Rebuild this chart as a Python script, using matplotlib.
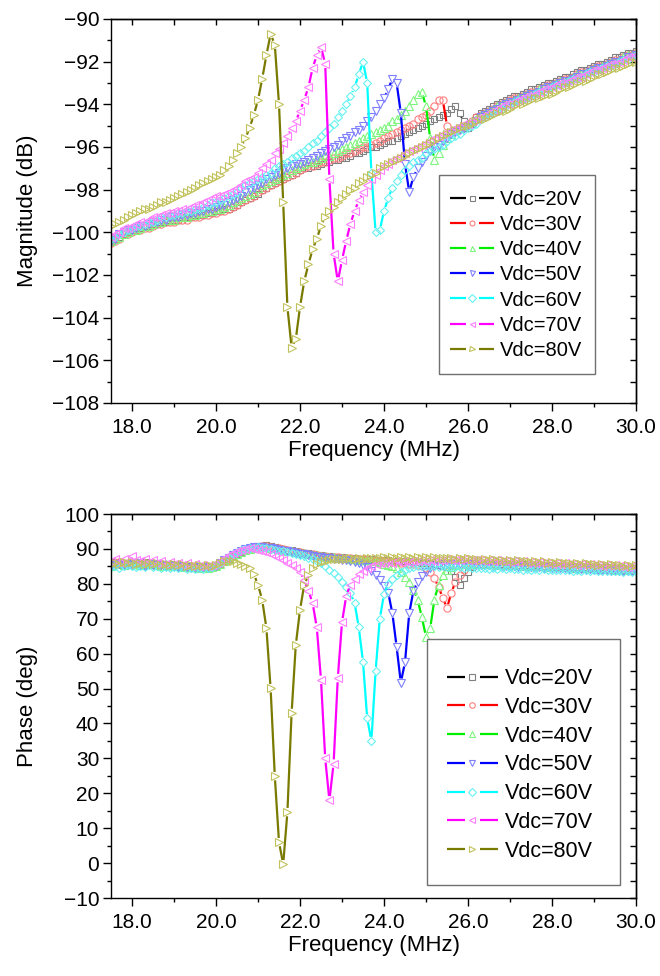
import numpy as np
import matplotlib
matplotlib.use("Agg")
import matplotlib.pyplot as plt
from matplotlib.lines import Line2D
from matplotlib.collections import LineCollection
from matplotlib.patches import Rectangle
from matplotlib.legend_handler import HandlerBase
from matplotlib.ticker import MultipleLocator, FormatStrFormatter, NullFormatter

plt.rcParams['font.family'] = ['Liberation Sans', 'DejaVu Sans']

# ---------------- data ----------------
freq_start, freq_stop, freq_step = 17.5, 30.0, 0.1
freq = np.round(np.arange(freq_start, freq_stop + freq_step / 2, freq_step), 2)

labels = ["Vdc=20V", "Vdc=30V", "Vdc=40V", "Vdc=50V", "Vdc=60V", "Vdc=70V", "Vdc=80V"]

mag_20V = [-100.4, -100.3, -100.2, -100.1, -100.0,
           -99.9, -99.9, -99.8, -99.7, -99.7, -99.6, -99.6, -99.5, -99.5, -99.4,
           -99.4, -99.4, -99.3, -99.3, -99.3, -99.2, -99.2, -99.2, -99.1, -99.1,
           -99.0, -99.0, -98.9, -98.9, -98.8, -98.7, -98.6, -98.5, -98.4, -98.3,
           -98.2, -98.0, -97.9, -97.8, -97.7, -97.6, -97.5, -97.4, -97.3, -97.2,
           -97.1, -97.0, -97.0, -96.9, -96.9, -96.8, -96.7, -96.7, -96.6, -96.6,
           -96.5, -96.5, -96.4, -96.3, -96.3, -96.2, -96.1, -96.0, -96.0, -95.9,
           -95.8, -95.7, -95.7, -95.6, -95.5, -95.4, -95.3, -95.2, -95.1, -95.0,
           -94.9, -94.8, -94.7, -94.6, -94.5, -94.4, -94.2, -94.1, -94.4, -94.8,
           -95.1, -94.9, -94.6, -94.4, -94.3, -94.2, -94.1, -94.0, -93.9, -93.8,
           -93.7, -93.6, -93.6, -93.5, -93.4, -93.3, -93.3, -93.2, -93.1, -93.0,
           -93.0, -92.9, -92.8, -92.7, -92.7, -92.6, -92.5, -92.4, -92.4, -92.3,
           -92.2, -92.1, -92.1, -92.0, -91.9, -91.8, -91.8, -91.7, -91.6, -91.6,
           -91.5]
mag_30V = [-100.5, -100.4, -100.3, -100.1, -100.1,
           -100.0, -99.9, -99.9, -99.8, -99.8, -99.7, -99.6, -99.6, -99.5, -99.5,
           -99.5, -99.4, -99.4, -99.4, -99.3, -99.3, -99.3, -99.2, -99.2, -99.1,
           -99.1, -99.0, -99.0, -98.9, -98.8, -98.7, -98.6, -98.5, -98.4, -98.3,
           -98.1, -98.0, -97.9, -97.8, -97.7, -97.6, -97.5, -97.4, -97.3, -97.2,
           -97.1, -97.0, -96.9, -96.9, -96.8, -96.7, -96.7, -96.6, -96.5, -96.5,
           -96.4, -96.3, -96.3, -96.2, -96.1, -96.0, -96.0, -95.9, -95.8, -95.7,
           -95.6, -95.5, -95.4, -95.3, -95.2, -95.1, -95.0, -94.9, -94.7, -94.6,
           -94.5, -94.3, -94.1, -93.8, -93.8, -95.0, -95.3, -95.2, -95.1, -95.0,
           -94.9, -94.8, -94.6, -94.5, -94.4, -94.3, -94.2, -94.1, -94.0, -93.9,
           -93.8, -93.7, -93.7, -93.6, -93.5, -93.4, -93.4, -93.3, -93.2, -93.1,
           -93.1, -93.0, -92.9, -92.8, -92.8, -92.7, -92.6, -92.5, -92.5, -92.4,
           -92.3, -92.2, -92.2, -92.1, -92.0, -91.9, -91.9, -91.8, -91.7, -91.7,
           -91.6]
mag_40V = [-100.4, -100.3, -100.2, -100.1, -100.0,
           -99.9, -99.9, -99.8, -99.7, -99.7, -99.6, -99.5, -99.5, -99.4, -99.4,
           -99.4, -99.3, -99.3, -99.3, -99.2, -99.2, -99.1, -99.1, -99.0, -99.0,
           -98.9, -98.9, -98.8, -98.7, -98.6, -98.5, -98.4, -98.3, -98.2, -98.1,
           -97.9, -97.8, -97.7, -97.6, -97.5, -97.4, -97.3, -97.2, -97.1, -97.0,
           -96.9, -96.8, -96.7, -96.7, -96.6, -96.5, -96.4, -96.4, -96.3, -96.2,
           -96.1, -96.0, -95.9, -95.8, -95.7, -95.6, -95.5, -95.4, -95.3, -95.2,
           -95.1, -95.0, -94.8, -94.7, -94.5, -94.3, -94.1, -93.8, -93.5, -93.4,
           -94.1, -95.6, -96.6, -96.3, -95.9, -95.6, -95.4, -95.2, -95.1, -95.0,
           -94.9, -94.8, -94.7, -94.5, -94.4, -94.3, -94.2, -94.1, -94.0, -93.9,
           -93.9, -93.8, -93.7, -93.6, -93.5, -93.5, -93.4, -93.3, -93.2, -93.2,
           -93.1, -93.0, -92.9, -92.9, -92.8, -92.7, -92.6, -92.6, -92.5, -92.4,
           -92.3, -92.3, -92.2, -92.1, -92.0, -92.0, -91.9, -91.8, -91.7, -91.7,
           -91.6]
mag_50V = [-100.4, -100.3, -100.1, -100.0, -99.9,
           -99.9, -99.8, -99.7, -99.7, -99.6, -99.5, -99.5, -99.4, -99.4, -99.3,
           -99.3, -99.3, -99.2, -99.2, -99.1, -99.1, -99.0, -99.0, -98.9, -98.9,
           -98.8, -98.7, -98.7, -98.6, -98.5, -98.4, -98.3, -98.1, -98.0, -97.9,
           -97.8, -97.7, -97.5, -97.4, -97.3, -97.2, -97.1, -97.0, -96.9, -96.8,
           -96.8, -96.7, -96.6, -96.5, -96.4, -96.3, -96.2, -96.1, -96.0, -95.9,
           -95.7, -95.6, -95.5, -95.3, -95.2, -95.0, -94.8, -94.6, -94.3, -94.0,
           -93.7, -93.3, -92.8, -93.0, -94.4, -96.8, -98.1, -97.4, -97.0, -96.7,
           -96.4, -96.2, -96.0, -95.9, -95.7, -95.6, -95.4, -95.3, -95.2, -95.1,
           -95.0, -94.9, -94.8, -94.6, -94.5, -94.4, -94.3, -94.2, -94.1, -94.0,
           -93.9, -93.9, -93.8, -93.7, -93.6, -93.5, -93.5, -93.4, -93.3, -93.2,
           -93.2, -93.1, -93.0, -92.9, -92.9, -92.8, -92.7, -92.6, -92.6, -92.5,
           -92.4, -92.3, -92.3, -92.2, -92.1, -92.0, -92.0, -91.9, -91.8, -91.8,
           -91.7]
mag_60V = [-100.3, -100.2, -100.1, -100.0, -99.9,
           -99.8, -99.7, -99.7, -99.6, -99.5, -99.5, -99.4, -99.3, -99.3, -99.2,
           -99.2, -99.1, -99.1, -99.0, -99.0, -98.9, -98.9, -98.8, -98.7, -98.6,
           -98.6, -98.5, -98.4, -98.3, -98.2, -98.1, -97.9, -97.8, -97.7, -97.6,
           -97.5, -97.4, -97.3, -97.2, -97.0, -96.9, -96.8, -96.7, -96.5, -96.4,
           -96.3, -96.2, -96.0, -95.8, -95.7, -95.5, -95.3, -95.1, -94.9, -94.6,
           -94.3, -94.0, -93.6, -93.2, -92.6, -92.0, -93.0, -97.2, -100.0, -99.9,
           -99.0, -98.4, -97.9, -97.6, -97.3, -97.1, -96.9, -96.7, -96.6, -96.5,
           -96.3, -96.2, -96.1, -96.0, -95.9, -95.7, -95.6, -95.5, -95.4, -95.2,
           -95.1, -95.0, -94.9, -94.7, -94.6, -94.5, -94.4, -94.3, -94.2, -94.1,
           -94.0, -93.9, -93.8, -93.8, -93.7, -93.6, -93.5, -93.4, -93.4, -93.3,
           -93.2, -93.1, -93.1, -93.0, -92.9, -92.8, -92.8, -92.7, -92.6, -92.5,
           -92.5, -92.4, -92.3, -92.2, -92.2, -92.1, -92.0, -91.9, -91.9, -91.8,
           -91.7]
mag_70V = [-100.2, -100.1, -100.0, -99.8, -99.8,
           -99.7, -99.6, -99.5, -99.5, -99.4, -99.3, -99.3, -99.2, -99.1, -99.1,
           -99.0, -99.0, -98.9, -98.9, -98.8, -98.7, -98.7, -98.6, -98.5, -98.4,
           -98.3, -98.3, -98.2, -98.1, -98.0, -97.9, -97.8, -97.6, -97.5, -97.4,
           -97.2, -97.0, -96.8, -96.6, -96.3, -96.1, -95.8, -95.5, -95.1, -94.8,
           -94.3, -93.8, -93.2, -92.3, -91.7, -91.3, -92.1, -97.5, -101.0, -102.3,
           -101.3, -100.4, -99.6, -99.0, -98.5, -98.1, -97.8, -97.5, -97.3, -97.1,
           -96.9, -96.8, -96.6, -96.5, -96.4, -96.3, -96.2, -96.1, -96.0, -95.9,
           -95.8, -95.7, -95.6, -95.5, -95.4, -95.3, -95.2, -95.1, -95.0, -94.9,
           -94.9, -94.8, -94.7, -94.6, -94.5, -94.4, -94.3, -94.2, -94.1, -94.0,
           -94.0, -93.9, -93.8, -93.7, -93.6, -93.6, -93.5, -93.4, -93.3, -93.3,
           -93.2, -93.1, -93.0, -93.0, -92.9, -92.8, -92.7, -92.7, -92.6, -92.5,
           -92.4, -92.4, -92.3, -92.2, -92.1, -92.1, -92.0, -91.9, -91.8, -91.8,
           -91.7]
mag_80V = [-99.7, -99.6, -99.5, -99.4, -99.3,
           -99.2, -99.1, -99.0, -98.9, -98.9, -98.8, -98.7, -98.6, -98.6, -98.5,
           -98.4, -98.3, -98.2, -98.1, -98.0, -97.9, -97.8, -97.7, -97.6, -97.5,
           -97.4, -97.3, -97.1, -96.9, -96.6, -96.3, -96.0, -95.6, -95.1, -94.5,
           -93.8, -92.8, -91.7, -90.7, -91.2, -94.0, -98.6, -103.5, -105.4, -105.0,
           -103.5, -102.3, -101.5, -100.8, -100.3, -99.7, -99.3, -99.0, -98.8, -98.6,
           -98.4, -98.2, -98.0, -97.9, -97.7, -97.6, -97.4, -97.3, -97.2, -97.0,
           -96.9, -96.8, -96.7, -96.6, -96.5, -96.4, -96.3, -96.2, -96.1, -96.0,
           -95.9, -95.8, -95.7, -95.6, -95.5, -95.4, -95.3, -95.2, -95.1, -95.0,
           -95.0, -94.9, -94.8, -94.7, -94.7, -94.6, -94.5, -94.4, -94.3, -94.3,
           -94.2, -94.1, -94.0, -94.0, -93.9, -93.8, -93.7, -93.7, -93.6, -93.5,
           -93.5, -93.4, -93.3, -93.2, -93.2, -93.1, -93.0, -92.9, -92.9, -92.8,
           -92.7, -92.6, -92.6, -92.5, -92.4, -92.3, -92.3, -92.2, -92.1, -92.0,
           -92.0]

ph_20V = [85.8, 86.2, 85.5, 86.0, 85.7,
          86.1, 85.6, 85.9, 86.3, 85.8, 85.5, 85.9, 85.6, 85.2, 85.5,
          85.1, 85.4, 84.9, 85.2, 84.8, 84.6, 84.9, 84.5, 84.8, 84.6,
          85.0, 85.6, 86.3, 87.1, 87.9, 88.6, 89.2, 89.8, 90.2, 90.5,
          90.8, 90.9, 91.0, 90.8, 90.6, 90.3, 90.1, 89.8, 89.6, 89.3,
          89.1, 88.9, 88.7, 88.5, 88.3, 88.2, 88.0, 87.9, 87.8, 87.7,
          87.6, 87.5, 87.4, 87.3, 87.2, 87.1, 87.0, 87.0, 86.9, 86.8,
          86.8, 86.7, 86.6, 86.6, 86.5, 86.4, 86.4, 86.3, 86.2, 86.1,
          86.0, 85.8, 85.6, 85.4, 85.1, 84.8, 83.8, 82.0, 79.7, 81.7,
          83.4, 84.8, 85.4, 85.6, 85.7, 85.8, 85.8, 85.7, 85.7, 85.6,
          85.6, 85.5, 85.5, 85.6, 85.4, 85.4, 85.3, 85.4, 85.2, 85.2,
          85.3, 85.1, 85.1, 85.2, 85.0, 85.0, 84.9, 85.0, 84.8, 84.8,
          84.9, 84.7, 84.7, 84.8, 84.6, 84.6, 84.5, 84.6, 84.4, 84.4,
          84.5]
ph_30V = [85.5, 85.9, 86.3, 85.8, 85.4,
          85.9, 86.2, 85.7, 85.5, 86.0, 85.7, 85.3, 85.8, 85.4, 85.1,
          85.3, 85.0, 85.2, 84.7, 85.0, 84.5, 84.8, 84.7, 84.4, 84.9,
          85.2, 85.8, 86.5, 87.3, 88.0, 88.7, 89.3, 89.7, 90.1, 90.4,
          90.6, 90.7, 90.8, 90.6, 90.4, 90.2, 89.9, 89.7, 89.4, 89.2,
          89.0, 88.8, 88.6, 88.4, 88.3, 88.1, 88.0, 87.8, 87.7, 87.6,
          87.5, 87.4, 87.3, 87.2, 87.1, 87.0, 86.9, 86.8, 86.7, 86.6,
          86.5, 86.4, 86.3, 86.2, 86.1, 86.0, 85.8, 85.6, 85.4, 85.1,
          84.6, 83.4, 81.6, 79.0, 76.0, 73.0, 77.4, 80.5, 82.5, 84.0,
          85.0, 85.5, 85.7, 85.8, 85.8, 85.7, 85.6, 85.7, 85.5, 85.5,
          85.4, 85.5, 85.3, 85.3, 85.2, 85.3, 85.1, 85.1, 85.0, 85.1,
          84.9, 84.9, 84.8, 84.9, 84.7, 84.7, 84.6, 84.7, 84.5, 84.5,
          84.4, 84.5, 84.3, 84.3, 84.2, 84.3, 84.1, 84.1, 84.0, 84.1,
          84.0]
ph_40V = [85.2, 85.6, 86.0, 85.5, 85.9,
          85.7, 86.0, 85.4, 85.8, 85.6, 85.9, 85.5, 85.2, 85.6, 85.3,
          85.0, 85.3, 84.8, 85.1, 84.7, 85.0, 84.6, 84.9, 84.5, 84.8,
          85.1, 85.7, 86.4, 87.2, 87.9, 88.6, 89.2, 89.7, 90.0, 90.3,
          90.5, 90.6, 90.5, 90.4, 90.2, 90.0, 89.8, 89.5, 89.3, 89.1,
          88.9, 88.7, 88.5, 88.3, 88.2, 88.0, 87.9, 87.7, 87.6, 87.5,
          87.4, 87.3, 87.2, 87.0, 86.9, 86.8, 86.7, 86.6, 86.4, 86.3,
          85.8, 85.5, 85.0, 84.4, 83.3, 82.0, 80.4, 78.3, 75.5, 70.5,
          64.8, 67.3, 75.5, 79.8, 82.5, 84.0, 84.9, 85.4, 85.7, 85.8,
          85.9, 85.8, 85.9, 85.7, 85.8, 85.6, 85.7, 85.5, 85.6, 85.4,
          85.5, 85.3, 85.4, 85.2, 85.3, 85.1, 85.2, 85.0, 85.1, 84.9,
          85.0, 84.8, 84.9, 84.7, 84.8, 84.6, 84.7, 84.5, 84.6, 84.4,
          84.5, 84.3, 84.4, 84.2, 84.3, 84.1, 84.2, 84.0, 84.1, 83.9,
          84.0]
ph_50V = [85.0, 85.4, 85.8, 85.3, 85.7,
          85.4, 85.9, 85.5, 85.2, 85.7, 85.4, 85.8, 85.3, 85.0, 85.4,
          85.1, 84.8, 85.2, 84.9, 84.6, 84.9, 84.5, 84.8, 84.4, 84.7,
          85.2, 85.9, 86.7, 87.5, 88.2, 88.9, 89.5, 90.0, 90.3, 90.5,
          90.6, 90.5, 90.4, 90.2, 90.0, 89.8, 89.5, 89.3, 89.0, 88.8,
          88.6, 88.4, 88.2, 88.0, 87.8, 87.7, 87.5, 87.3, 87.2, 87.0,
          86.9, 86.7, 86.5, 86.3, 86.0, 85.5, 84.8, 83.8, 82.5, 81.2,
          79.5, 77.5, 71.5, 62.0, 51.7, 57.5, 71.5, 78.0, 80.6, 82.3,
          83.5, 84.5, 85.1, 85.5, 85.7, 85.8, 85.7, 85.8, 85.6, 85.7,
          85.5, 85.6, 85.4, 85.5, 85.3, 85.4, 85.2, 85.3, 85.1, 85.2,
          85.0, 85.1, 84.9, 85.0, 84.8, 84.9, 84.7, 84.8, 84.6, 84.7,
          84.5, 84.6, 84.4, 84.5, 84.3, 84.4, 84.2, 84.3, 84.1, 84.2,
          84.0, 84.1, 83.9, 84.0, 83.8, 83.9, 83.7, 83.8, 83.6, 83.7,
          83.6]
ph_60V = [84.8, 85.2, 84.6, 85.0, 85.4,
          85.1, 84.7, 85.2, 84.9, 85.3, 84.8, 85.1, 84.6, 84.9, 84.5,
          84.8, 84.4, 84.7, 84.3, 84.6, 84.2, 84.5, 84.3, 84.6, 84.9,
          85.4, 86.1, 86.9, 87.7, 88.4, 89.0, 89.6, 90.0, 90.3, 90.4,
          90.5, 90.4, 90.2, 90.0, 89.8, 89.5, 89.3, 89.0, 88.8, 88.5,
          88.2, 87.9, 87.5, 87.1, 86.6, 85.9, 85.0, 84.0, 83.0, 82.0,
          80.6, 79.1, 77.3, 74.5, 67.5, 57.6, 41.5, 35.0, 55.0, 70.0,
          77.0, 80.0, 81.5, 82.6, 83.5, 84.1, 84.5, 84.8, 85.0, 85.1,
          85.2, 85.0, 85.1, 84.9, 85.0, 84.8, 84.9, 84.7, 84.8, 84.6,
          84.7, 84.5, 84.6, 84.4, 84.5, 84.3, 84.5, 84.3, 84.4, 84.2,
          84.4, 84.2, 84.3, 84.1, 84.3, 84.1, 84.2, 84.0, 84.2, 84.0,
          84.1, 83.9, 84.1, 83.9, 84.0, 83.8, 84.0, 83.8, 83.9, 83.7,
          83.9, 83.7, 83.8, 83.6, 83.8, 83.6, 83.7, 83.5, 83.7, 83.5,
          83.6]
ph_70V = [86.5, 87.2, 86.3, 87.0, 86.6,
          88.0, 86.9, 86.4, 87.1, 86.2, 86.8, 86.0, 86.5, 85.8, 86.3,
          85.6, 86.1, 85.4, 85.9, 85.2, 85.6, 85.0, 85.4, 85.1, 85.5,
          85.9, 86.6, 87.4, 88.2, 88.8, 89.4, 89.8, 90.1, 90.2, 90.1,
          89.8, 89.5, 89.0, 88.5, 88.0, 87.4, 86.8, 86.1, 85.3, 84.5,
          83.5, 81.0, 78.0, 74.5, 67.5, 52.5, 30.0, 18.0, 28.5, 53.0,
          69.0, 76.5, 79.8, 81.5, 82.8, 83.8, 84.6, 85.2, 85.6, 85.9,
          86.0, 86.3, 86.1, 86.4, 86.2, 86.5, 86.3, 86.6, 86.4, 86.7,
          86.5, 86.8, 86.6, 86.9, 86.7, 87.0, 86.8, 86.9, 86.7, 87.0,
          86.8, 86.9, 86.7, 86.9, 86.6, 86.8, 86.5, 86.7, 86.4, 86.6,
          86.3, 86.5, 86.2, 86.4, 86.1, 86.3, 86.0, 86.2, 85.9, 86.1,
          85.8, 86.0, 85.7, 85.9, 85.6, 85.8, 85.5, 85.7, 85.4, 85.6,
          85.3, 85.5, 85.2, 85.4, 85.1, 85.3, 85.0, 85.2, 84.9, 85.1,
          84.9]
ph_80V = [85.6, 86.0, 85.7, 86.2, 85.9,
          86.3, 85.8, 86.1, 85.7, 86.0, 85.6, 85.9, 85.5, 85.8, 85.4,
          85.7, 85.3, 85.6, 85.2, 85.5, 85.1, 85.4, 85.0, 85.3, 85.2,
          85.5, 86.0, 86.4, 86.6, 86.5, 86.0, 85.7, 85.2, 84.5, 82.8,
          79.7, 75.4, 67.3, 50.1, 24.9, 6.0, -0.3, 14.6, 43.0, 62.5,
          72.5, 79.7, 82.5, 84.5, 85.6, 86.2, 86.6, 86.8, 87.0, 87.1,
          87.2, 87.0, 87.3, 87.1, 87.4, 87.2, 87.5, 87.3, 87.5, 87.3,
          87.6, 87.4, 87.6, 87.4, 87.7, 87.5, 87.6, 87.4, 87.7, 87.5,
          87.6, 87.4, 87.6, 87.3, 87.5, 87.3, 87.4, 87.2, 87.4, 87.1,
          87.3, 87.0, 87.2, 86.9, 87.1, 86.8, 87.0, 86.7, 86.9, 86.6,
          86.8, 86.5, 86.7, 86.4, 86.6, 86.3, 86.5, 86.2, 86.4, 86.1,
          86.3, 86.0, 86.2, 85.9, 86.1, 85.8, 86.0, 85.7, 85.9, 85.6,
          85.8, 85.5, 85.7, 85.4, 85.6, 85.3, 85.5, 85.2, 85.4, 85.1,
          85.3]

magnitudes = [mag_20V, mag_30V, mag_40V, mag_50V, mag_60V, mag_70V, mag_80V]
phases = [ph_20V, ph_30V, ph_40V, ph_50V, ph_60V, ph_70V, ph_80V]
for arr in magnitudes + phases:
    assert len(arr) == len(freq), len(arr)

# ---------------- style ----------------
line_colors = ['#000000', '#FF0000', '#00EE00', '#0000FF', '#00FFFF', '#FF00FF', '#7A7A00']
marker_colors = ['#808080', '#FF7F7F', '#7FF57F', '#7F7FFF', '#66F2F2', '#FF7FFF', '#C2C25C']
markers = ['s', 'o', '^', 'v', 'D', '<', '>']
marker_sizes = [5.0, 5.2, 5.5, 5.5, 4.4, 5.5, 5.5]

fig = plt.figure(figsize=(6.6, 9.76), dpi=100)
W, H = 660.0, 976.0
ax1 = fig.add_axes([111 / W, 1 - 403 / H, 525 / W, 384 / H])
ax2 = fig.add_axes([111 / W, 1 - 898 / H, 525 / W, 384 / H])

GAP_PX = 4.2


def draw_series(ax, x, y, lc, mc, mk, ms):
    pts = ax.transData.transform(np.column_stack([x, y]))
    segs = []
    for p0, p1 in zip(pts[:-1], pts[1:]):
        d = p1 - p0
        L = np.hypot(d[0], d[1])
        if L > 2 * GAP_PX + 0.5:
            u = d / L
            segs.append([p0 + u * GAP_PX, p1 - u * GAP_PX])
    inv = ax.transData.inverted()
    segs_data = [inv.transform(np.array(s)) for s in segs]
    lcol = LineCollection(segs_data, colors=lc, linewidths=1.6, zorder=2,
                          capstyle='butt')
    ax.add_collection(lcol)
    ax.plot(x, y, linestyle='none', marker=mk, markersize=ms,
            markerfacecolor='none', markeredgecolor=mc, markeredgewidth=0.8,
            zorder=2)


class GapHandler(HandlerBase):
    def __init__(self, ms, lw, gap_frac):
        super().__init__()
        self.ms = ms
        self.lw = lw
        self.gap_frac = gap_frac

    def create_artists(self, legend, orig_handle, xdescent, ydescent,
                       width, height, fontsize, trans):
        y = (height - ydescent) / 2.0
        x0 = -xdescent
        x1 = -xdescent + width
        xm = 0.5 * (x0 + x1)
        g = width * self.gap_frac
        c = orig_handle.get_color()
        l1 = Line2D([x0, xm - g], [y, y], color=c, lw=self.lw, solid_capstyle='butt')
        l2 = Line2D([xm + g, x1], [y, y], color=c, lw=self.lw, solid_capstyle='butt')
        m = Line2D([xm], [y], linestyle='none', marker=orig_handle.get_marker(),
                   markersize=self.ms, markerfacecolor='none',
                   markeredgecolor=orig_handle.get_markeredgecolor(),
                   markeredgewidth=0.8)
        for a in (l1, l2, m):
            a.set_transform(trans)
        return [l1, l2, m]


def style_axes(ax, ymin, ymax, ymajor, yminor, ylabel):
    ax.set_xlim(17.5, 30.0)
    ax.set_ylim(ymin, ymax)
    ax.xaxis.set_major_locator(MultipleLocator(2))
    ax.xaxis.set_minor_locator(MultipleLocator(1))
    ax.xaxis.set_major_formatter(FormatStrFormatter('%.1f'))
    ax.yaxis.set_major_locator(MultipleLocator(ymajor))
    ax.yaxis.set_minor_locator(MultipleLocator(yminor))
    ax.tick_params(which='both', direction='out', top=False, right=False,
                   width=1.0, labelsize=15, pad=2.5)
    ax.tick_params(which='major', length=6)
    ax.tick_params(which='minor', length=3)
    ax.tick_params(axis='x', which='major', pad=5)
    for sp in ax.spines.values():
        sp.set_linewidth(1.0)
    ax.set_xlabel('Frequency (MHz)', fontsize=16, labelpad=2)
    ax.set_ylabel(ylabel, fontsize=16, labelpad=4)
    sx = ax.secondary_xaxis('top')
    sx.xaxis.set_major_locator(MultipleLocator(1))
    sx.xaxis.set_major_formatter(NullFormatter())
    sx.tick_params(direction='in', length=4.3, width=1.0, labeltop=False)
    sx.spines['top'].set_linewidth(1.0)
    sy = ax.secondary_yaxis('right')
    sy.yaxis.set_major_locator(MultipleLocator(ymajor))
    sy.yaxis.set_minor_locator(MultipleLocator(yminor))
    sy.yaxis.set_major_formatter(NullFormatter())
    sy.tick_params(which='both', direction='in', width=1.0, labelright=False)
    sy.tick_params(which='major', length=4.5)
    sy.tick_params(which='minor', length=4.5)
    sy.spines['right'].set_linewidth(1.0)


style_axes(ax1, -108, -90, 2, 1, 'Magnitude (dB)')
style_axes(ax2, -10, 100, 10, 5, 'Phase (deg)')
ax1.yaxis.set_label_coords(-0.14, 0.5)
ax2.yaxis.set_label_coords(-0.14, 0.5)

for i in range(7):
    draw_series(ax1, freq, magnitudes[i], line_colors[i], marker_colors[i],
                markers[i], marker_sizes[i])
    draw_series(ax2, freq, phases[i], line_colors[i], marker_colors[i],
                markers[i], marker_sizes[i])

proxies = [Line2D([], [], color=line_colors[i], marker=markers[i],
                  markeredgecolor=marker_colors[i]) for i in range(7)]


def add_legend(ax, center_px, box_px, fs, ms, hlen, hpad, lspace):
    hm = {p: GapHandler(ms, 1.6, 0.15) for p in proxies}
    cx, cy = center_px
    leg = ax.legend(proxies, labels, loc='center',
                    bbox_to_anchor=(cx / W, 1 - cy / H),
                    bbox_transform=fig.transFigure, frameon=False,
                    fontsize=fs, handlelength=hlen, handletextpad=hpad,
                    labelspacing=lspace, borderpad=0.0, handler_map=hm)
    leg.set_zorder(5)
    x0, y0, x1, y1 = box_px
    rect = Rectangle((x0 / W, 1 - y1 / H), (x1 - x0) / W, (y1 - y0) / H,
                     transform=fig.transFigure, fill=True, facecolor='white',
                     edgecolor='#707070', linewidth=1.0, zorder=4)
    ax.add_artist(rect)
    rect.set_clip_on(False)
    return leg


add_legend(ax1, (516, 275), (439, 175, 595, 374), 14.5, 3.6, 2.2, 0.26, 0.3)
add_legend(ax2, (520, 765), (427, 639, 620, 885), 15.5, 4.0, 2.37, 0.33, 0.36)

fig.savefig('out.png', dpi=100)
